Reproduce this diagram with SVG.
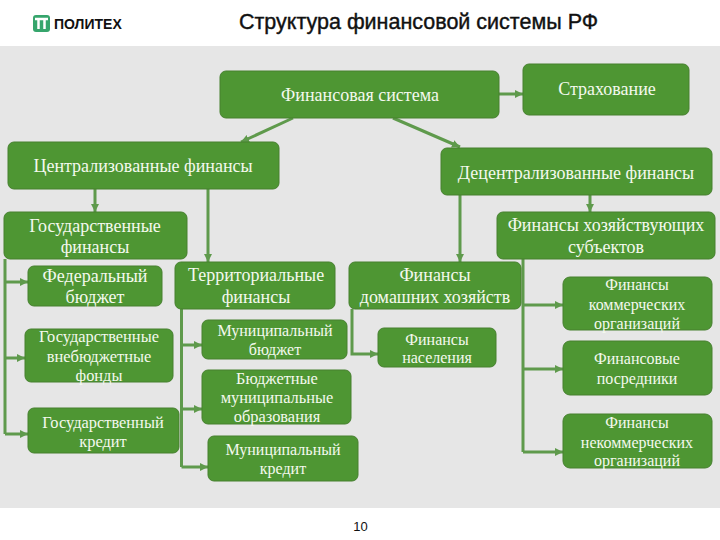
<svg xmlns="http://www.w3.org/2000/svg" width="720" height="540" viewBox="0 0 720 540">
<style>
.b{fill:#4e9633;stroke:#46802f;stroke-width:1}
.t{font-family:"Liberation Serif","Times New Roman",serif;fill:#f4f9ee;text-anchor:middle;font-size:18px}
.s{font-size:16px}
.m{font-size:16.400px}
.c{fill:none;stroke:#5f9a4c;stroke-width:3}
.n{font-family:"Liberation Sans",Arial,sans-serif;fill:#111}
</style>
<defs><marker id="a" markerUnits="userSpaceOnUse" markerWidth="10" markerHeight="10" refX="8" refY="5" orient="auto"><path d="M0 1L8 5L0 9Z" fill="#5f9a4c"/></marker></defs>
<rect width="720" height="540" fill="#fff"/>
<rect y="46" width="720" height="462" fill="#e6e6e6"/>
<g id="logo"><rect x="33" y="15" width="17" height="17" rx="3" fill="#36a56c"/><path d="M35 19H48M38.500 19V29M44.500 19V29" fill="none" stroke="#fff" stroke-width="2.500"/><text x="54" y="29" class="n" font-size="14" font-weight="700" fill="#222">ПОЛИТЕХ</text></g>
<text x="418.500" y="29" class="n" font-size="21.500" font-weight="400" stroke="#111" stroke-width=".4" text-anchor="middle">Структура финансовой системы РФ</text>
<text x="360.500" y="531" class="n" font-size="13" text-anchor="middle">10</text>
<g id="connectors">
<path class="c" marker-end="url(#a)" d="M499 94H523"/>
<path class="c" marker-end="url(#a)" d="M293 118L241 142"/>
<path class="c" marker-end="url(#a)" d="M393 118L460 147"/>
<path class="c" marker-end="url(#a)" d="M95 189V212"/>
<path class="c" marker-end="url(#a)" d="M208 189V262"/>
<path class="c" marker-end="url(#a)" d="M460 195V262"/>
<path class="c" marker-end="url(#a)" d="M590 195V212"/>
<path class="c" d="M5 259V434"/>
<path class="c" marker-end="url(#a)" d="M5 282H28"/>
<path class="c" marker-end="url(#a)" d="M5 358H25"/>
<path class="c" marker-end="url(#a)" d="M5 434H28"/>
<path class="c" d="M181.500 309V467"/>
<path class="c" marker-end="url(#a)" d="M181.500 345H202"/>
<path class="c" marker-end="url(#a)" d="M181.500 409H202"/>
<path class="c" marker-end="url(#a)" d="M181.500 467H208"/>
<path class="c" marker-end="url(#a)" d="M352 309V354H378"/>
<path class="c" d="M523 259V452"/>
<path class="c" marker-end="url(#a)" d="M523 305H563"/>
<path class="c" marker-end="url(#a)" d="M523 369H563"/>
<path class="c" marker-end="url(#a)" d="M523 452H563"/>
</g>
<g id="n1"><rect class="b" x="220" y="71" width="279" height="47" rx="6"/><text class="t" x="360" y="101">Финансовая система</text></g>
<g id="n2"><rect class="b" x="523" y="64" width="166" height="51" rx="6"/><text class="t" x="607" y="95">Страхование</text></g>
<g id="n3"><rect class="b" x="8" y="142" width="271" height="47" rx="6"/><text class="t" x="143" y="172">Централизованные финансы</text></g>
<g id="n4"><rect class="b" x="441" y="148" width="271" height="47" rx="6"/><text class="t" x="576" y="179">Децентрализованные финансы</text></g>
<g id="n5"><rect class="b" x="4" y="212" width="183" height="47" rx="6"/><text class="t" x="95" y="232">Государственные</text><text class="t" x="95" y="253">финансы</text></g>
<g id="n6"><rect class="b" x="497" y="212" width="218" height="47" rx="6"/><text class="t" x="606" y="231">Финансы хозяйствующих</text><text class="t" x="606" y="253">субъектов</text></g>
<g id="n7"><rect class="b" x="28" y="266" width="134" height="40" rx="6"/><text class="t" x="95" y="282">Федеральный</text><text class="t" x="95" y="303">бюджет</text></g>
<g id="n8"><rect class="b" x="175" y="262" width="160" height="47" rx="6"/><text class="t" x="256" y="281">Территориальные</text><text class="t" x="256" y="303">финансы</text></g>
<g id="n9"><rect class="b" x="349" y="262" width="172" height="47" rx="6"/><text class="t" x="435" y="281">Финансы</text><text class="t" x="435" y="303">домашних хозяйств</text></g>
<g id="n10"><rect class="b" x="25" y="329" width="148" height="53" rx="6"/><text class="t m" x="99" y="342">Государственные</text><text class="t m" x="99" y="362">внебюджетные</text><text class="t m" x="99" y="381">фонды</text></g>
<g id="n11"><rect class="b" x="28" y="408" width="151" height="45" rx="6"/><text class="t m" x="103" y="428">Государственный</text><text class="t m" x="103" y="447">кредит</text></g>
<g id="n12"><rect class="b" x="202" y="320" width="145" height="39" rx="6"/><text class="t s" x="275" y="336">Муниципальный</text><text class="t s" x="275" y="355">бюджет</text></g>
<g id="n13"><rect class="b" x="202" y="370" width="149" height="54" rx="6"/><text class="t m" x="277" y="384">Бюджетные</text><text class="t m" x="277" y="403">муниципальные</text><text class="t m" x="277" y="422">образования</text></g>
<g id="n14"><rect class="b" x="208" y="436" width="150" height="45" rx="6"/><text class="t s" x="283" y="455">Муниципальный</text><text class="t s" x="283" y="474">кредит</text></g>
<g id="n15"><rect class="b" x="378" y="328" width="118" height="39" rx="6"/><text class="t s" x="437" y="345">Финансы</text><text class="t s" x="437" y="363">населения</text></g>
<g id="n16"><rect class="b" x="563" y="277" width="149" height="53" rx="7"/><text class="t s" x="637" y="290">Финансы</text><text class="t s" x="637" y="310">коммерческих</text><text class="t s" x="637" y="329">организаций</text></g>
<g id="n17"><rect class="b" x="563" y="341" width="149" height="54" rx="7"/><text class="t s" x="637" y="364">Финансовые</text><text class="t s" x="637" y="384">посредники</text></g>
<g id="n18"><rect class="b" x="563" y="414" width="149" height="54" rx="7"/><text class="t s" x="637" y="428">Финансы</text><text class="t s" x="637" y="448">некоммерческих</text><text class="t s" x="637" y="466">организаций</text></g>
</svg>
